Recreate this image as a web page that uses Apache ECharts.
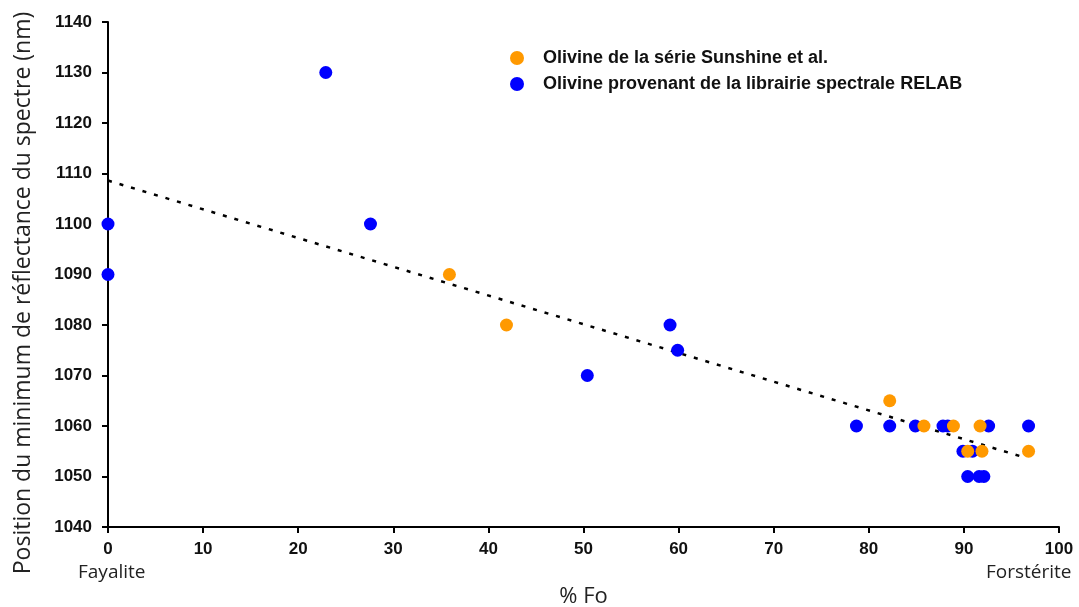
<!DOCTYPE html>
<html>
<head>
<meta charset="utf-8">
<script src="https://cdn.jsdelivr.net/npm/echarts@6/dist/echarts.min.js"></script>
<style>
  html, body { margin: 0; padding: 0; background: #fff; }
  #chart { width: 1079px; height: 607px; }
</style>
</head>
<body>
<div id="chart"></div>
<script>
// Olivine de la série Sunshine et al. : [% Fo, position (nm)]
var sunshine = [
  [35.9, 1090], [41.9, 1080], [82.2, 1065], [85.8, 1060], [88.9, 1060],
  [91.7, 1060], [90.4, 1055], [91.9, 1055], [96.8, 1055]
];
// Olivine provenant de la librairie spectrale RELAB
var relab = [
  [0, 1100], [0, 1090], [22.9, 1130], [27.6, 1100], [50.4, 1070],
  [59.1, 1080], [59.9, 1075], [78.7, 1060], [82.2, 1060], [84.9, 1060],
  [87.8, 1060], [88.3, 1060], [92.6, 1060], [96.8, 1060], [89.9, 1055],
  [90.9, 1055], [90.4, 1050], [91.6, 1050], [92.1, 1050]
];
// droite de tendance
var trend = [[0, 1108.6], [96.5, 1053.7]];

var xTicks = { min: 0, max: 100, interval: 10 };
var yTicks = { min: 1040, max: 1140, interval: 10 };
var yTitle = "Position du minimum de réflectance du spectre (nm)";

var chart = echarts.init(document.getElementById("chart"));
var option = {
  backgroundColor: "#fff",
  animation: false,
  grid: { left: 108, right: 20, top: 22, bottom: 80, containLabel: false, outerBoundsMode: "none" },
  legend: {
    orient: "vertical",
    left: 505,
    top: 44,
    itemGap: 8,
    itemWidth: 14,
    itemHeight: 14,
    icon: "circle",
    data: ["Olivine de la série Sunshine et al.", "Olivine provenant de la librairie spectrale RELAB"],
    textStyle: { fontFamily: "Liberation Sans", fontWeight: "bold", fontSize: 18, color: "#111", padding: [0, 0, 0, 14] }
  },
  xAxis: {
    type: "value",
    min: xTicks.min, max: xTicks.max, interval: xTicks.interval,
    name: "% Fo",
    nameLocation: "middle",
    nameGap: 59,
    nameTextStyle: { fontFamily: "Open Sans", fontSize: 22, color: "#222" },
    splitLine: { show: false },
    axisLine: { lineStyle: { color: "#000", width: 2 } },
    axisTick: { length: 6, lineStyle: { color: "#000", width: 2 } },
    axisLabel: { margin: 14, fontFamily: "Liberation Sans", fontWeight: "bold", fontSize: 17, color: "#111" }
  },
  yAxis: {
    type: "value",
    min: yTicks.min, max: yTicks.max, interval: yTicks.interval,
    splitLine: { show: false },
    axisLine: { lineStyle: { color: "#000", width: 2 } },
    axisTick: { length: 6, lineStyle: { color: "#000", width: 2 } },
    axisLabel: {
      margin: 16, fontFamily: "Liberation Sans", fontWeight: "bold", fontSize: 17, color: "#111",
      formatter: function (v) { return String(v); }
    }
  },
  graphic: [
    { type: "text", left: 78, top: 563, style: { text: "Fayalite", font: "19px 'Open Sans'", fill: "#222" } },
    { type: "text", left: 986, top: 563, style: { text: "Forstérite", font: "19px 'Open Sans'", fill: "#222" } },
    {
      type: "text", x: 23, y: 293, rotation: Math.PI / 2,
      style: { text: yTitle, font: "23px 'Open Sans'", fill: "#222", align: "center", verticalAlign: "middle" }
    }
  ],
  series: [
    {
      name: "Tendance",
      type: "line",
      data: trend,
      symbol: "none",
      silent: true,
      lineStyle: { color: "#000", width: 2.5, type: [4, 8] },
      z: 1
    },
    {
      name: "Olivine provenant de la librairie spectrale RELAB",
      type: "scatter",
      data: relab,
      symbolSize: 13,
      itemStyle: { color: "#0000ff", opacity: 1 },
      z: 2
    },
    {
      name: "Olivine de la série Sunshine et al.",
      type: "scatter",
      data: sunshine,
      symbolSize: 13,
      itemStyle: { color: "#ff9900", opacity: 1 },
      z: 3
    }
  ]
};
chart.setOption(option);
</script>
</body>
</html>
